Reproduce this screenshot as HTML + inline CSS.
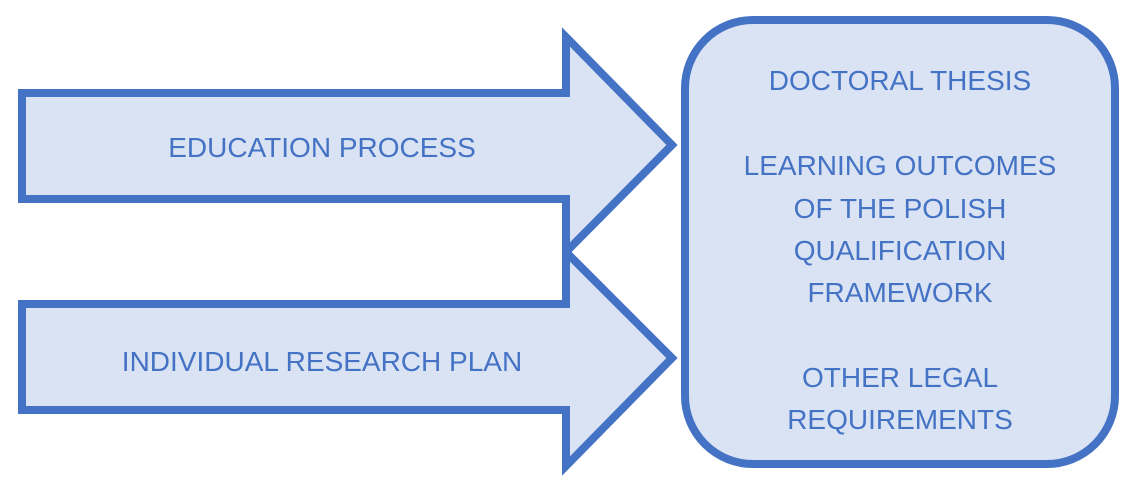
<!DOCTYPE html>
<html><head><style>
body{margin:0;background:#fff;}
svg{display:block;}
text{font-family:"Liberation Sans",sans-serif;font-size:28px;fill:#4472C4;text-anchor:middle;}
</style></head><body>
<svg width="1145" height="492" viewBox="0 0 1145 492">
<g fill="#DAE3F3" stroke="#4472C4" stroke-width="8" stroke-linejoin="miter">
<polygon points="22,93 566,93 566,37 672,145 566,252 566,199 22,199"/>
<polygon points="22,304 566,304 566,252 672,358 566,466 566,410 22,410"/>
<rect x="685" y="20" width="430" height="444" rx="68" ry="68"/>
</g>
<text x="322" y="157">EDUCATION PROCESS</text>
<text x="322" y="371">INDIVIDUAL RESEARCH PLAN</text>
<text x="900" y="90">DOCTORAL THESIS</text>
<text x="900" y="175">LEARNING OUTCOMES</text>
<text x="900" y="218">OF THE POLISH</text>
<text x="900" y="260">QUALIFICATION</text>
<text x="900" y="302">FRAMEWORK</text>
<text x="900" y="387">OTHER LEGAL</text>
<text x="900" y="429">REQUIREMENTS</text>
</svg>
</body></html>
